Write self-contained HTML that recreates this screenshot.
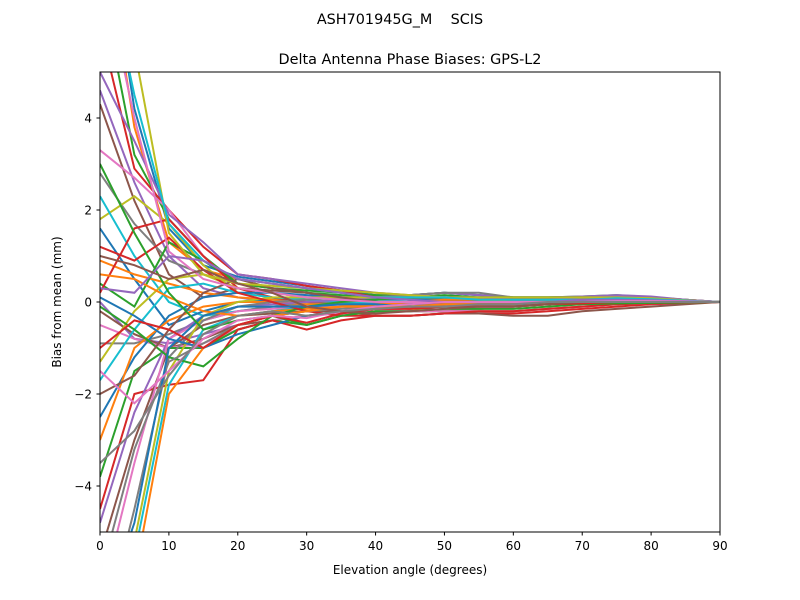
<!DOCTYPE html>
<html><head><meta charset="utf-8"><style>
html,body{margin:0;padding:0;background:#fff;overflow:hidden;width:800px;height:600px;position:relative;}
svg{display:block;position:absolute;left:0;top:0;}
svg text{font-family:"DejaVu Sans","Liberation Sans",sans-serif;}
</style></head><body>
<svg id="chart" width="800" height="600" viewBox="0 0 800 600" xmlns="http://www.w3.org/2000/svg">
<defs><clipPath id="plotclip"><rect x="100" y="72" width="620" height="460"/></clipPath></defs>
<text x="400" y="24" font-size="14.4" text-anchor="middle" style="white-space:pre">ASH701945G_M    SCIS</text>
<text x="410" y="64" font-size="14.4" text-anchor="middle">Delta Antenna Phase Biases: GPS-L2</text>
<g id="series" clip-path="url(#plotclip)"></g>
<rect x="100" y="72" width="620" height="460" fill="none" stroke="#000" stroke-width="1"/>
<g id="axes"></g>
<text x="410" y="574" font-size="12" text-anchor="middle">Elevation angle (degrees)</text>
<text transform="translate(61,302) rotate(-90)" font-size="12" text-anchor="middle">Bias from mean (mm)</text>
</svg>
<script>
const elevations=[0,5,10,15,20,25,30,35,40,45,50,55,60,65,70,75,80,85,90];
const xTicks=[0,10,20,30,40,50,60,70,80,90];
const yTicks=[-4,-2,0,2,4];
const yTickLabels=["\u22124","\u22122","0","2","4"];
const s01=[9,4.2,1.6,0.8,0.55,0.45,0.35,0.25,0.15,0.1,0.05,0.05,0,0,0.05,0.05,0.05,0.03,0];
const s02=[8.5,3.8,1.3,0.7,0.5,0.4,0.3,0.2,0.12,0.08,0.05,0.03,0,0,0.03,0.05,0.04,0.02,0];
const s03=[7,3.2,1.8,1.0,0.4,0.3,0.25,0.2,0.15,0.15,0.2,0.15,0.1,0.1,0.12,0.15,0.1,0.05,0];
const s04=[6,2.9,2.0,1.2,0.6,0.5,0.35,0.25,0.1,0.05,0.1,0.05,0,0.05,0.1,0.12,0.1,0.05,0];
const s05=[4.6,2.6,1.0,0.3,0.1,0,-0.1,-0.05,-0.1,-0.15,-0.1,-0.05,-0.05,-0.05,0,0.05,0.03,0.02,0];
const s06=[4.3,2.2,0.6,0.1,0.3,0.25,0.2,0.1,0,-0.1,-0.2,-0.15,-0.1,-0.05,0,0.02,0.03,0.01,0];
const s07=[3.3,2.7,2.0,1.0,0.3,0.2,0.1,0.05,0.05,0.1,0.1,0.05,0,-0.02,0,0.02,0.02,0.01,0];
const s08=[2.8,1.7,0.9,0.6,0.4,0.3,0.2,0.1,0,-0.05,-0.05,-0.05,-0.05,-0.03,0,0.02,0.02,0.01,0];
const s09=[1.8,2.3,1.7,0.8,0.2,0.1,0.05,0,-0.1,-0.15,-0.2,-0.15,-0.1,-0.05,0,0.03,0.02,0.01,0];
const s10=[2.3,1.0,0.0,-0.3,-0.2,-0.1,0,0.05,0.05,0.1,0.1,0.1,0.05,0.05,0.05,0.05,0.03,0.02,0];
const s11=[1.6,0.5,-0.5,-0.2,0,0.05,0.1,0.1,0.1,0.15,0.2,0.15,0.1,0.1,0.1,0.1,0.08,0.04,0];
const s12=[0.9,0.6,0.4,0.2,0.1,0.05,0,0,-0.05,-0.05,0,0,-0.05,-0.05,0,0.02,0.02,0.01,0];
const s13=[0.4,-0.1,1.3,0.9,0.4,0.3,0.2,0.15,0.1,0.05,0.05,0.05,0.05,0.05,0.05,0.05,0.05,0.02,0];
const s14=[0.2,1.6,1.8,1.0,0.3,0.1,0,-0.05,-0.1,-0.1,-0.1,-0.05,-0.05,-0.05,0,0,0.02,0.01,0];
const s15=[0.0,-0.8,-0.9,-0.7,-0.5,-0.3,-0.2,-0.1,-0.05,0,0.05,0.05,0,0,0.02,0.05,0.05,0.02,0];
const s16=[-0.2,-0.7,-1.0,-0.8,-0.5,-0.4,-0.3,-0.2,-0.15,-0.1,-0.1,-0.1,-0.1,-0.05,0,0,0.02,0.01,0];
const s17=[-0.5,-0.8,-1.0,-0.9,-0.6,-0.4,-0.3,-0.25,-0.2,-0.2,-0.2,-0.15,-0.1,-0.05,-0.03,0,0,0,0];
const s18=[-0.9,-0.9,-0.7,-0.4,-0.2,-0.1,-0.05,0,0,0,0.05,0.05,0.05,0.05,0.05,0.05,0.04,0.02,0];
const s19=[-1.3,-0.2,0.5,0.6,0.3,0.2,0.1,0.05,0,0,0,0,0,0,0,0.02,0.02,0.01,0];
const s20=[-1.7,-0.6,0.3,0.4,0.2,0.1,0.05,0,-0.05,-0.1,-0.1,-0.1,-0.05,-0.05,0,0,0.01,0,0];
const s21=[-2.5,-1.2,-0.3,0.1,0.2,0.2,0.15,0.1,0.05,0.05,0.05,0.05,0,0,0.02,0.03,0.02,0.01,0];
const s22=[-3.0,-1.0,-0.4,-0.1,0,0,-0.05,-0.05,-0.1,-0.1,-0.1,-0.1,-0.05,-0.05,0,0,0.01,0,0];
const s23=[-3.8,-1.5,-1.0,-1.0,-0.6,-0.4,-0.5,-0.3,-0.2,-0.2,-0.2,-0.2,-0.2,-0.15,-0.1,-0.05,-0.03,-0.02,0];
const s24=[-4.5,-2.0,-1.8,-1.7,-0.6,-0.4,-0.6,-0.4,-0.3,-0.3,-0.25,-0.25,-0.25,-0.2,-0.15,-0.1,-0.05,-0.03,0];
const s25=[-4.8,-2.4,-0.8,-0.3,-0.1,-0.05,0,0.05,0.1,0.15,0.2,0.15,0.1,0.1,0.12,0.15,0.12,0.05,0];
const s26=[-5.5,-3.0,-1.0,-0.5,-0.3,-0.25,-0.2,-0.2,-0.3,-0.3,-0.25,-0.25,-0.3,-0.3,-0.2,-0.15,-0.1,-0.05,0];
const s27=[-6.5,-3.5,-0.8,-0.4,-0.2,-0.15,-0.1,-0.1,-0.15,-0.2,-0.2,-0.2,-0.2,-0.15,-0.1,-0.05,-0.03,-0.02,0];
const s28=[-7.5,-4.5,-1.2,-0.4,-0.1,0,0.05,0.1,0.1,0.15,0.2,0.2,0.1,0.1,0.1,0.12,0.1,0.05,0];
const s29=[-8,-5.2,-1.5,-0.3,0,0.1,0.1,0.1,0.1,0.1,0.1,0.05,0,0,0.05,0.08,0.07,0.03,0];
const s30=[-8.5,-5.5,-1.8,-0.6,-0.3,-0.2,-0.1,-0.05,0,0,0,0,0,0,0,0,0,0,0];
const s31=[0.1,-0.3,-0.8,-1.0,-0.7,-0.5,-0.3,-0.2,-0.1,-0.05,0,0,0,0,0.02,0.03,0.03,0.01,0];
const s32=[0.6,0.5,0.1,-0.2,-0.3,-0.2,-0.15,-0.1,-0.05,0,0.05,0.05,0.05,0.05,0.05,0.05,0.03,0.02,0];
const s33=[-0.1,-0.6,-1.2,-1.4,-0.8,-0.3,-0.1,0,0.05,0.1,0.15,0.1,0.1,0.1,0.1,0.1,0.08,0.04,0];
const s34=[1.2,0.9,1.4,0.7,0.2,0,-0.2,-0.3,-0.3,-0.3,-0.25,-0.2,-0.2,-0.15,-0.1,-0.05,-0.03,-0.02,0];
const s35=[5,3.5,1.9,1.3,0.6,0.5,0.4,0.3,0.2,0.15,0.1,0.1,0.05,0.05,0.1,0.12,0.1,0.05,0];
const s36=[-2.0,-1.6,-0.6,0.2,0.5,0.3,0.2,0.1,0,0,-0.05,-0.05,-0.05,0,0,0.02,0.02,0.01,0];
const s37=[7.5,4.0,1.1,0.5,0.3,0.2,0.1,0.05,0,0,0,0,0,0,0,0.03,0.03,0.01,0];
const s38=[-6,-3.2,-1.3,-0.9,-0.5,-0.3,-0.2,-0.15,-0.1,-0.1,-0.05,-0.05,-0.05,0,0,0,0,0,0];
const s39=[9.5,5.5,1.5,0.6,0.4,0.35,0.3,0.25,0.2,0.15,0.1,0.1,0.1,0.1,0.1,0.1,0.08,0.04,0];
const s40=[8,4.5,1.7,0.9,0.5,0.4,0.3,0.2,0.1,0.1,0.1,0.05,0.05,0.05,0.05,0.08,0.06,0.03,0];
const s41=[-7,-4.8,-1.0,-0.3,-0.1,-0.1,-0.1,-0.05,-0.05,-0.1,-0.1,-0.1,-0.05,-0.05,0,0,0,0,0];
const s42=[-9,-6,-2.0,-1.0,-0.5,-0.3,-0.2,-0.1,-0.1,-0.1,-0.05,-0.05,-0.05,0,0,0,0,0,0];
const s43=[3.0,1.5,0.2,-0.6,-0.4,-0.3,-0.5,-0.3,-0.2,-0.2,-0.15,-0.15,-0.15,-0.1,-0.05,-0.03,-0.02,-0.01,0];
const s44=[-1.0,-0.4,-0.6,-1.0,-0.5,-0.3,-0.45,-0.25,-0.15,-0.15,-0.1,-0.1,-0.1,-0.05,-0.03,0,0,0,0];
const s45=[0.3,0.2,1.0,0.9,0.5,0.4,0.3,0.2,0.1,0.05,0,0,0,0,0.05,0.05,0.04,0.02,0];
const s46=[1.0,0.8,0.5,0.7,0.4,0.2,-0.1,-0.2,-0.25,-0.2,-0.15,-0.1,-0.1,-0.05,0,0,0.01,0,0];
const s47=[-1.5,-2.2,-1.5,-0.8,-0.4,-0.3,-0.35,-0.2,-0.1,-0.05,0,0,0,0,0,0.02,0.02,0.01,0];
const s48=[-3.5,-2.8,-1.6,-0.7,-0.3,-0.2,-0.3,-0.2,-0.15,-0.1,-0.1,-0.05,-0.05,0,0,0,0,0,0];
const seriesList=[s01,s02,s03,s04,s05,s06,s07,s08,s09,s10,s11,s12,s13,s14,s15,s16,s17,s18,s19,s20,s21,s22,s23,s24,s25,s26,s27,s28,s29,s30,s31,s32,s33,s34,s35,s36,s37,s38,s39,s40,s41,s42,s43,s44,s45,s46,s47,s48];
const colors=["#1f77b4","#ff7f0e","#2ca02c","#d62728","#9467bd","#8c564b","#e377c2","#7f7f7f","#bcbd22","#17becf"];
const NS="http://www.w3.org/2000/svg";
function xs(v){return 100+v/90*620;}
function ys(v){return 302-v*46;}
const g=document.getElementById('series');
seriesList.forEach((s,i)=>{
  const p=document.createElementNS(NS,'polyline');
  p.setAttribute('points',s.map((v,j)=>xs(elevations[j]).toFixed(1)+','+ys(v).toFixed(1)).join(' '));
  p.setAttribute('fill','none');
  p.setAttribute('stroke',colors[i%10]);
  p.setAttribute('stroke-width','2');
  
  
  g.appendChild(p);
});
const ax=document.getElementById('axes');
xTicks.forEach(t=>{
  const l=document.createElementNS(NS,'line');
  l.setAttribute('x1',xs(t));l.setAttribute('x2',xs(t));l.setAttribute('y1',532);l.setAttribute('y2',535.5);l.setAttribute('stroke','#000');
  
  
  ax.appendChild(l);
  const tx=document.createElementNS(NS,'text');
  tx.setAttribute('x',xs(t));tx.setAttribute('y',550);tx.setAttribute('font-size','12');tx.setAttribute('text-anchor','middle');
  tx.textContent=t;
  
  
  ax.appendChild(tx);
});
yTicks.forEach((t,i)=>{
  const l=document.createElementNS(NS,'line');
  l.setAttribute('x1',96.5);l.setAttribute('x2',100);l.setAttribute('y1',ys(t));l.setAttribute('y2',ys(t));l.setAttribute('stroke','#000');
  
  
  ax.appendChild(l);
  const tx=document.createElementNS(NS,'text');
  tx.setAttribute('x',92);tx.setAttribute('y',ys(t)+4.5);tx.setAttribute('font-size','12');tx.setAttribute('text-anchor','end');
  tx.textContent=yTickLabels[i];
  
  
  ax.appendChild(tx);
});
</script>
</body></html>
